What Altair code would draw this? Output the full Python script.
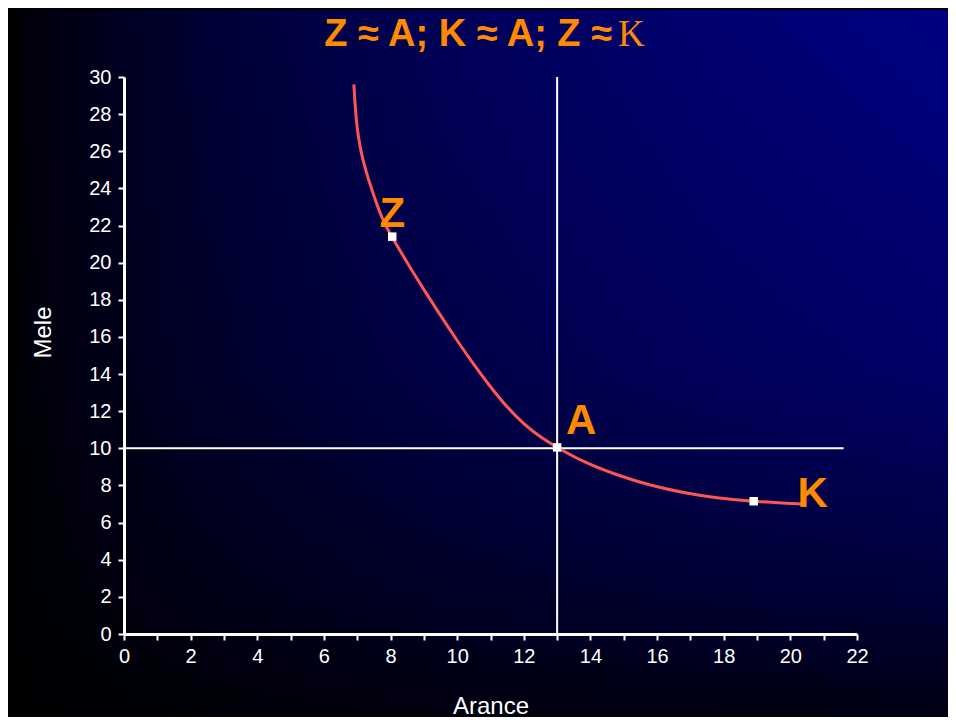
import altair as alt
import pandas as pd

# ---- data ----
curve_x = [6.9, 6.96, 7.1, 7.4, 7.75, 8.05, 8.6, 9.0, 9.5, 10.0, 10.5, 11.0, 11.5,
           12.0, 12.5, 13.0, 13.8, 14.8, 15.8, 16.8, 17.8, 18.8, 19.8, 20.45]
curve_y = [29.6, 27.7, 25.9, 24.1, 22.3, 21.35, 19.7, 18.55, 17.15, 15.8, 14.5, 13.3, 12.2,
           11.3, 10.6, 10.05, 9.25, 8.55, 8.0, 7.6, 7.32, 7.15, 7.05, 7.0]
point_names = ["Z", "A", "K"]
point_x = [8.05, 13.0, 18.9]
point_y = [21.4, 10.05, 7.15]
x_ticks = list(range(0, 23))
y_ticks = list(range(0, 31, 2))
ref_x = 13
ref_y = 10
ref_h_end = 21.6
title_main = "Z ≈ A; K ≈ A; Z ≈"
title_tail = "K"
x_title = "Arance"
y_title = "Mele"

W, H = 733, 557
ORANGE = "#FF8A00"
FONT = "Liberation Sans"

curve_df = pd.DataFrame({"x": curve_x, "y": curve_y})
pts_df = pd.DataFrame({"name": point_names, "x": point_x, "y": point_y})
vline_df = pd.DataFrame({"x": [ref_x], "y": [0], "y2": [30]})
hline_df = pd.DataFrame({"y": [ref_y], "x": [0], "x2": [ref_h_end]})

xs = alt.Scale(domain=[0, 22], nice=False)
ys = alt.Scale(domain=[0, 30], nice=False)

x_axis = alt.Axis(values=x_ticks, labelExpr="datum.value % 2 == 0 ? datum.label : ''",
                  title=x_title, grid=False, domainColor="white", domainWidth=3,
                  tickColor="white", tickWidth=2, tickSize=6, labelColor="white",
                  labelFontSize=20, labelFont=FONT, labelPadding=6, titleFont=FONT,
                  titleFontSize=24, titleFontWeight="normal", titleColor="white",
                  titleBaseline="alphabetic", titleY=79, labelFlush=False,
                  labelOverlap=False, zindex=2)
y_axis = alt.Axis(values=y_ticks, title=y_title, grid=False, domainColor="white",
                  domainWidth=3, tickColor="white", tickWidth=2, tickSize=6,
                  labelColor="white", labelFontSize=20, labelFont=FONT, labelPadding=7,
                  titleFont=FONT, titleFontSize=24, titleFontWeight="normal",
                  titleColor="white", titleBaseline="alphabetic", titleX=-74, titleY=255,
                  titleAngle=-90, labelFlush=False, labelOverlap=False, zindex=2)


def X(field="x"):
    return alt.X(f"{field}:Q", scale=xs, axis=x_axis)


def Y(field="y"):
    return alt.Y(f"{field}:Q", scale=ys, axis=y_axis)


hgrad = {"gradient": "linear", "x1": 0, "y1": 0, "x2": 1, "y2": 0,
         "stops": [{"offset": 0, "color": "#00000a"}, {"offset": 0.2, "color": "#000035"},
                   {"offset": 0.45, "color": "#000058"}, {"offset": 0.75, "color": "#000072"},
                   {"offset": 1, "color": "#000082"}]}
vgrad = {"gradient": "linear", "x1": 0, "y1": 0, "x2": 0, "y2": 1,
         "stops": [{"offset": 0, "color": "rgba(0,0,0,0)"}, {"offset": 0.5, "color": "rgba(0,0,0,0.2)"},
                   {"offset": 0.8, "color": "rgba(0,0,0,0.55)"}, {"offset": 1, "color": "rgba(0,0,0,0.9)"}]}

one = alt.Data(values=[{}])
bg1 = alt.Chart(one).mark_rect(fill=hgrad).encode(
    x=alt.value(-106), x2=alt.value(W + 100), y=alt.value(-67), y2=alt.value(H + 100))
bg2 = alt.Chart(one).mark_rect(fill=vgrad).encode(
    x=alt.value(-106), x2=alt.value(W + 100), y=alt.value(-67), y2=alt.value(H + 100))

curve = alt.Chart(curve_df).mark_line(color="#FF5555", strokeWidth=3, interpolate="basis").encode(
    x=X(), y=Y())

vline = alt.Chart(vline_df).mark_rule(color="white", strokeWidth=2).encode(
    x=X(), y=Y(), y2="y2:Q")
hline = alt.Chart(hline_df).mark_rule(color="white", strokeWidth=2).encode(
    y=Y(), x=X(), x2="x2:Q")

pts = alt.Chart(pts_df).mark_square(size=72, color="white", opacity=1).encode(
    x=X(), y=Y())

offsets = {"Z": (0, -10), "A": (24, -13), "K": (59, 6)}
labels = []
for n in point_names:
    dx, dy = offsets[n]
    labels.append(
        alt.Chart(pts_df).transform_filter(alt.datum.name == n)
        .mark_text(font=FONT, fontSize=42, fontWeight="bold", color=ORANGE,
                   align="center", baseline="alphabetic", dx=dx, dy=dy)
        .encode(x=X(), y=Y(), text="name:N"))

t1 = alt.Chart(one).mark_text(font=FONT, fontSize=38, fontWeight="bold", color=ORANGE,
                              align="right", baseline="alphabetic", text=title_main).encode(
    x=alt.value(488), y=alt.value(-31))
t2 = alt.Chart(one).mark_text(font="Liberation Serif", fontSize=37, color=ORANGE,
                              align="left", baseline="alphabetic", text=title_tail).encode(
    x=alt.value(494), y=alt.value(-31))

chart = alt.layer(bg1, bg2, vline, hline, curve, pts, *labels, t1, t2).properties(
    width=W, height=H,
    padding={"left": 116, "top": 69, "right": 91, "bottom": 83},
    autosize=alt.AutoSizeParams(type="none"),
    background="#000000",
).configure_view(stroke=None)

chart.save("out.html", embed_options={"renderer": "svg", "actions": False})
